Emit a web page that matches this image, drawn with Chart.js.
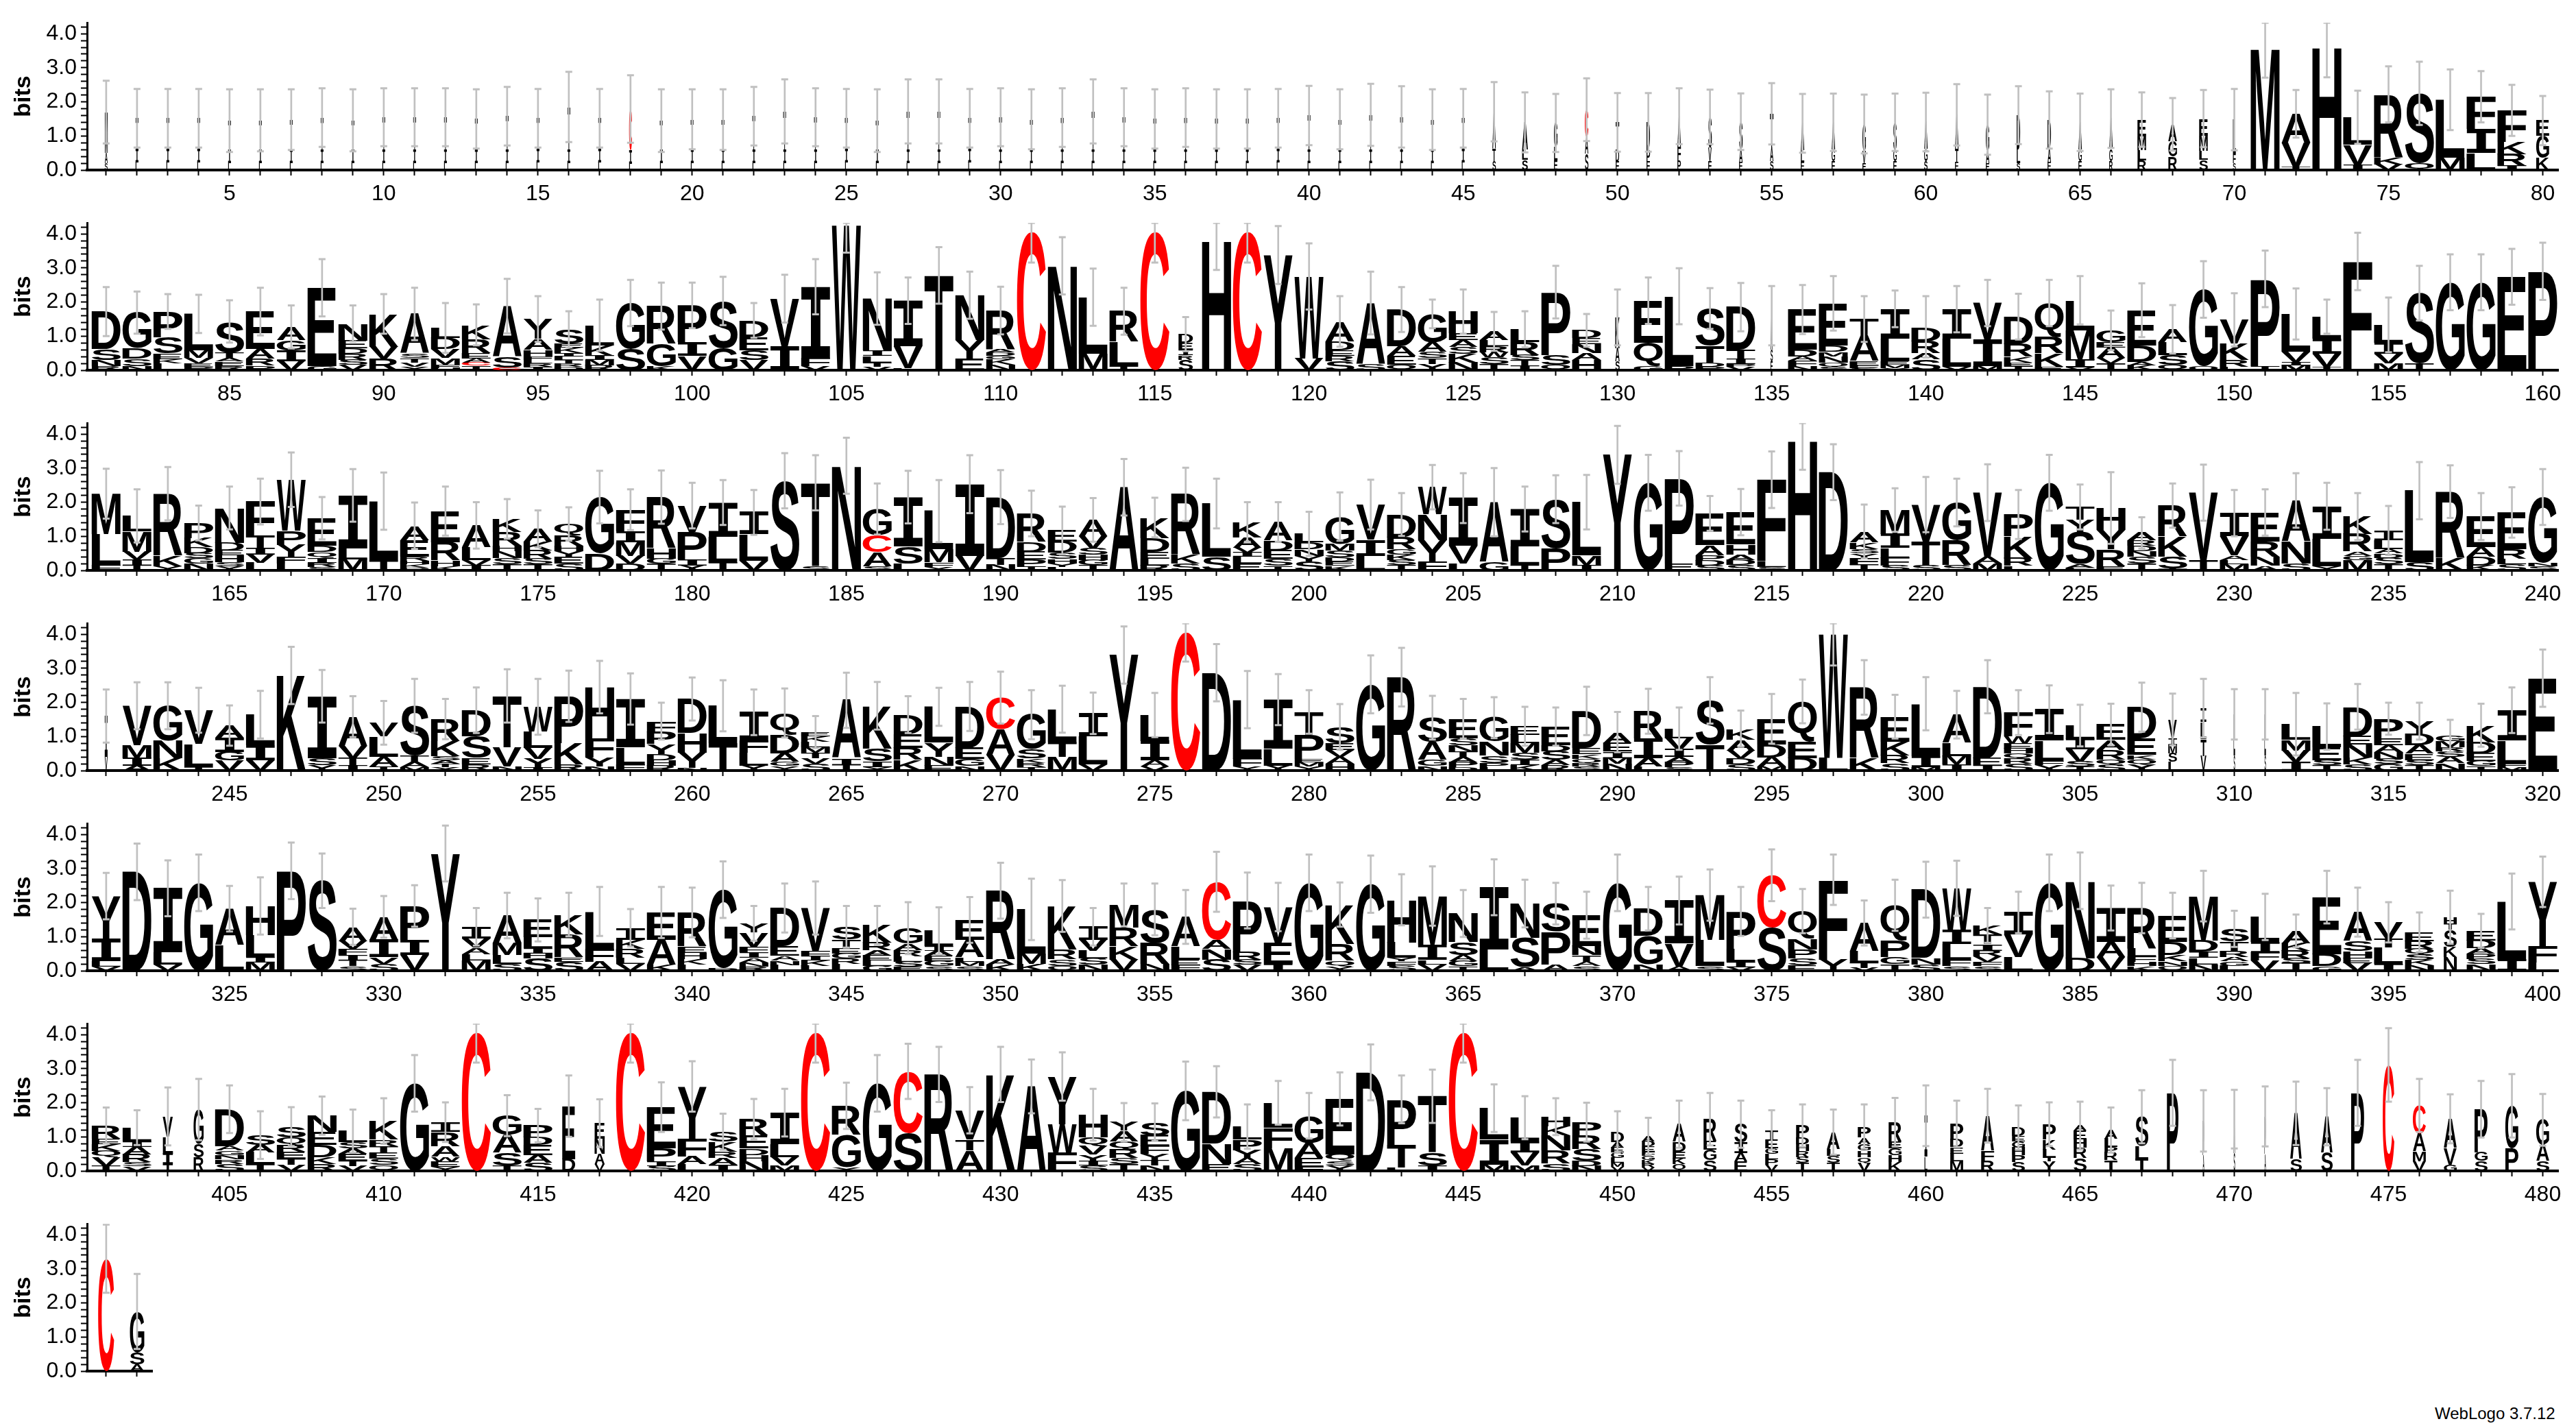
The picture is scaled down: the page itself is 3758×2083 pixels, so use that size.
<!DOCTYPE html>
<html lang="en">
<head>
<meta charset="utf-8">
<title>Sequence logo</title>
<script src="https://cdn.jsdelivr.net/npm/chart.js@4.4.1/dist/chart.umd.min.js"></script>
<style>
  html, body { margin: 0; padding: 0; background: #fff; }
  body { position: relative; width: 3758px; height: 2083px; overflow: hidden; }
  canvas.logo-row { position: absolute; left: 0; }
  #credit { position: absolute; left: 3552px; top: 2048px; font: 24px "Liberation Sans", Arial, sans-serif; color: #000; }
</style>
</head>
<body>
<canvas class="logo-row" id="row1" width="3758" height="292" style="top:8px"></canvas>
<canvas class="logo-row" id="row2" width="3758" height="292" style="top:300px"></canvas>
<canvas class="logo-row" id="row3" width="3758" height="292" style="top:592px"></canvas>
<canvas class="logo-row" id="row4" width="3758" height="292" style="top:884px"></canvas>
<canvas class="logo-row" id="row5" width="3758" height="292" style="top:1176px"></canvas>
<canvas class="logo-row" id="row6" width="3758" height="292" style="top:1468px"></canvas>
<canvas class="logo-row" id="row7" width="240" height="292" style="top:1760px"></canvas>
<div id="credit">WebLogo 3.7.12</div>

<script>
// ---- data: each stack is "letter+bits" from top to bottom ----
const YMAX = 4.32;
const yTickValues = [0, 0.2, 0.4, 0.6, 0.8, 1, 1.2, 1.4, 1.6, 1.8, 2, 2.2, 2.4, 2.6, 2.8, 3, 3.2, 3.4, 3.6, 3.8, 4, 4.2];

const row1Stacks = [
  "M1.2 A.3 S.2", "T.9 I.4 L.22", "T.9 I.4 L.22", "T.9 I.4 L.22", "T.85 I.4 L.2", "T.86 I.4 L.2", "T.88 I.4 L.2", "T.94 I.4 L.2", "T.86 I.4 L.2", "T.95 I.4 L.2",
  "T.95 I.4 L.2", "T.95 I.4 L.2", "T.9 I.4 L.2", "T.98 I.4 L.2", "T.9 I.4 L.22", "T1.25 I.4 L.2", "T.9 I.4 L.22", "C1.2 I.4 L.19", "T.85 I.4 L.2", "T.89 I.4 L.2",
  "T.88 I.4 L.2", "T.98 I.4 L.2", "T1.12 I.4 L.2", "T.95 I.4 L.2", "T.9 I.4 L.22", "T.85 I.4 L.2", "T1.12 I.4 L.2", "T1.12 I.4 L.2", "T.9 I.4 L.22", "T.95 I.4 L.2",
  "T.89 I.4 L.2", "T.94 I.4 L.2", "T1.12 I.4 L.2", "T.95 I.4 L.2", "T.9 I.4 L.2", "T.94 I.4 L.2", "T.9 I.4 L.2", "T.9 I.4 L.2", "T.9 I.4 L.22", "T1.0 I.4 L.2",
  "T.89 I.4 L.2", "T1.02 I.4 L.2", "T.96 I.4 L.2", "T.88 I.4 L.2", "T.9 I.4 L.22", "A1.1 T.35 S.26", "A.8 L.3 S.3", "G.7 L.4 E.28", "C.8 A.5 S.47", "T.8 D.35 E.25",
  "D.8 P.35 E.25", "A.9 F.4 P.28", "S.9 V.4 E.26", "S.8 A.4 E.22", "T1.0 A.4 S.25", "A.8 L.35 E.22", "A.8 G.35 E.25", "G.8 V.35 E.2", "S.8 G.35 E.25", "A.8 G.36 S.25",
  "A1.0 T.4 E.22", "G.75 A.38 E.2", "D1.0 L.4 S.21", "D.85 A.4 E.22", "A.8 G.35 E.25", "A.9 G.35 R.26", "E.5 M.4 L.3 R.28", "A.5 G.45 R.39", "E.5 M.45 L.26 S.3", "L1.0 F.28 S.2",
  "M3.56", "A.85 V.7 T.1", "H3.6", "L.8 V.6 I.15", "R1.85 K.2 V.17", "S2.05 Q.2", "L1.7 M.36", "F.95 I.7 L.5", "F.93 K.35 R.35 I.12", "E.45 G.65 K.35"
];
const row1Err = [
  .92, .86, .86, .86, .92, .91, .89, .86, .91, .85,
  .85, .85, .87, .86, .86, 1.03, .86, .99, .92, .88,
  .89, .86, .94, .85, .86, .92, .94, .94, .86, .85,
  .88, .86, .94, .85, .87, .86, .87, .87, .86, .87,
  .88, .91, .9, .89, .86, .87, .88, .85, .92, .86,
  .86, .82, .8, .83, .9, .86, .84, .86, .84, .86,
  .9, .88, .85, .84, .84, .86, .8, .77, .84, .9,
  .85, .7, .88, .78, .82, .93, .89, .75, .75, .72
];

const row2Stacks = [
  "D1.1 S.32 N.17 R.13", "G1.05 D.3 S.22 N.12", "P.75 S.48 E.16 K.13 L.2", "L1.07 M.22 V.16 E.1 P.1", "S.91 T.16 A.1 E.13 R.13", "E1.1 A.29 R.2 P.13", "A.39 G.3 I.31 V.27", "E2.29 G.13", "N.5 E.22 D.16 R.19 S.15 V.15", "K.96 V.35 R.34",
  "A1.16 S.13 T.13 V.13 Y.1", "L.3 D.32 V.26 M.19 F.1 H.07", "K.42 R.42 E.14 A.12 C.1 T.13", "A1.48 S.32 C.08", "Y.58 A.32 H.19 F.1 L.1 R.11 I.1", "S.42 E.12 K.16 I.1 L.1 T.1 R.1 D.1", "L.6 K.3 I.12 M.15 R.15", "G1.34 S.63", "R1.11 G.65 K.12", "P1.08 I.4 V.42",
  "S1.38 G.65", "D.49 E.38 S.29 V.3", "V1.4 I.7", "I2.1 F.22 V.13", "W4.25", "N1.52 I.16 L.19 T.13 V.1", "I1.34 V.64 L.06", "T2.78", "N1.31 Y.55 E.34", "R1.13 A.1 D.1 G.1 K.16 N.16",
  "C4.06", "N3.06", "L1.66 M.48", "R.9 L.7 T.13", "C4.06", "D.25 E.2 I.16 R.14 S.31", "H3.8", "C4.06", "Y3.38", "W2.4 V.35",
  "A.58 D.26 E.16 R.16 S.27", "A1.8 S.17", "D1.07 A.29 E.26 Q.16", "G.83 A.28 S.19 T.16 Y.19", "H.64 E.2 A.2 S.2 K.25 N.23", "A.25 L.18 R.18 W.15 S.2 T.18", "L.38 R.38 S.15 T.15 I.14", "P1.85 S.28 Q.16", "D.22 E.19 N.26 A.2 H.3", "K.9 A.4 S.25",
  "E1.24 Q.67 G.13", "L2.04 P.13", "S1.09 T.5 D.12 P.1", "D1.25 T.26 I.16 P.08 V.1", "A1.0 S.35 E.25", "E1.17 D.2 A.13 F.15 N.13", "E1.23 D.19 M.13 N.19 Q.12 S.1", "T.48 A.74 E.13 F.08 S.07", "I.87 L.67 E.1 M.1 Y.06", "D.42 R.35 A.18 S.32",
  "I.87 L.82 V.1", "V1.07 I.77 M.13", "D.8 R.38 K.16 E.1 T.13", "Q1.0 R.48 K.38 E.11", "L.88 M.87 I.22 V.08", "G.35 E.15 A.32 V.15 T.2", "E1.03 D.48 A.1 K.15", "A.38 L.38 S.29 Q.15", "G2.25 Q.12", "V.7 K.48 R.2 L.1",
  "P2.55 T.13", "L1.1 V.3 I.1 M.15", "L.64 I.45 V.38 T.1", "F3.19", "L.52 I.32 V.29 M.2", "S2.06 T.2", "G2.58", "G2.58", "E2.74", "P2.9"
];
const row2Err = [
  .72, .62, .51, .56, .62, .7, .63, .84, .53, .58,
  .77, .73, .6, .8, .67, .53, .75, .68, .69, .67,
  .71, .51, .7, .81, .8, .77, .68, .83, .69, .7,
  .9, .84, .84, .69, .9, .5, .86, .9, .85, .97,
  .74, .92, .66, .42, .65, .57, .53, .77, .48, .82,
  .68, .82, .6, .71, .87, .72, .8, .67, .54, .9,
  .68, .68, .67, .68, .71, .58, .79, .71, .83, .78,
  .83, .75, .5, .84, .8, .8, .82, .82, .82, .84
];

const row3Stacks = [
  "M1.18 L.92 F.15", "L.45 M.6 V.22 I.18 T.15", "R1.82 K.3 Y.13", "P.44 K.27 D.17 S.16 G.15 N.2", "N1.02 D.22 E.15 H.2 S.12 Y.12", "F1.0 T.35 I.2 V.25 L.22", "W1.5 P.41 Y.35 F.2 L.2", "E.8 D.19 Q.18 I.13 R.13 S.1", "I1.55 L.32 M.33", "L1.73 T.3",
  "A.42 E.48 R.13 H.1 K.1 D.08", "E.91 R.54 H.16 K.13", "A.64 L.38 V.15 I.15", "K.38 R.41 H.16 N.2 S.18 T.18", "A.38 K.25 R.25 S.17 T.17", "Q.32 R.32 H.16 Y.16 E.2 S.2", "G1.65 D.5", "F.63 I.32 M.41 V.22 D.2", "R1.5 H.3 G.15 T.2", "V.77 P.8 I.18 Y.15",
  "I1.0 L.76 T.23", "I.64 L.78 V.28", "S2.63", "T2.45 S.12", "N3.07", "G.76 C.5 A.42 S.12", "I1.45 S.5 L.2", "L1.12 M.38 F.14 Y.1", "I2.1 V.43", "D1.78 T.2 N.17",
  "R.83 D.29 E.22 P.2 T.13", "E.32 D.32 S.19 H.13 Y.1 L.11", "A.48 V.35 S.2 H.15 G.15 T.15", "A2.44", "K.6 D.4 E.2 L.2 R.15", "R1.78 K.25 S.2", "L1.56 S.4", "K.45 A.3 V.15 I.12 L.2 E.2", "A.54 D.29 E.25 S.2 T.14", "L.25 D.2 N.19 Y.16 S.27",
  "G.8 M.2 S.2 D.12 E.12 K.14", "V1.02 I.48 L.43", "D.67 R.35 G.16 K.16 S.15 T.15", "W.79 N.76 Y.64 F.25", "I1.4 V.52 L.2", "A1.76 G.24", "I1.1 L.54 T.16", "S1.44 P.65", "L1.56 M.29 I.15", "Y3.39",
  "G2.57", "P2.5 E.2", "E.93 A.29 P.16 D.14 S.15", "E.95 H.29 A.16 D.15 S.16", "F2.4 L.16 S.1", "H3.81", "D2.88", "A.32 K.19 S.13 Y.13 F.2 T.17", "M.7 I.41 L.29 F.22 S.15", "V1.08 T.7 S.15",
  "G1.11 R.73 S.15", "V1.88 A.2 M.2", "P.64 K.65 R.22 L.13", "G2.57", "T.38 Y.35 S.95 A.1 F.08", "H.64 Y.57 R.5 E.12", "A.22 R.16 D.16 N.16 S.2 T.2", "R.9 K.6 S.35 T.05", "V1.98 T.3", "I.67 V.57 A.13 L.13 M.18",
  "E.86 R.45 N.25 A.14", "A1.2 N.65 S.2", "I.95 L.8 Y.13", "K.51 R.51 A.13 G.13 M.3", "I.29 L.25 A.13 D.13 S.2 T.17", "L2.1 S.24", "R1.94 K.37", "E.89 A.29 D.25 K.15", "E1.07 R.29 L.16 S.18", "G1.93 N.1 S.12"
];
const row3Err = [
  .73, .78, .78, .51, .63, .67, .8, .62, .77, .84,
  .68, .72, .68, .58, .54, .49, .77, .6, .78, .67,
  .66, .66, .81, .81, .82, .75, .77, .91, .85, .79,
  .67, .7, .64, .83, .58, .78, .73, .58, .58, .65,
  .71, .73, .63, .65, .73, 1.0, .66, .7, .8, .85,
  .82, .8, .51, .68, .83, .86, .82, .79, .64, .81,
  .7, .83, .72, .82, .66, 1.05, .46, .65, .82, .68,
  .68, .8, .69, .69, .72, .84, .77, .69, .74, .82
];

const row4Stacks = [
  "I1.2 V.4", "V1.15 M.38 I.22 A.15", "G1.02 N.51 K.37", "V.99 L.67 T.11", "A.36 I.41 G.25 V.3", "L.89 I.45 V.3", "K2.79", "I1.81 S.22 Y.15", "A.86 V.35 T.22 I.15", "V.4 L.6 A.28 T.12",
  "S1.45 T.19 A.16 M.1", "R.64 K.45 S.12 A.1 T.1 Y.1", "D.76 S.64 E.19 R.18", "T1.5 V.57 N.12", "W.72 L.48 V.32 Y.25 I.1", "P1.38 K.62 R.18", "H1.5 F.57 Y.25 N.13", "I1.42 L.5 F.18", "F.32 P.35 Y.29 D.19 H.15 R.15", "D1.0 H.57 Y.45 N.08",
  "L1.1 T.8", "I.83 F.35 L.38 Y.15", "Q.64 D.54 A.25 G.13 Y.13", "E.13 K.16 L.16 M.16 T.16 V.16 S.2", "A1.7 I.19 T.17", "K1.25 S.38 I.16 Y.11", "D.57 E.41 R.35 K.31", "L1.05 Y.42 N.25 E.15", "D1.21 E.32 G.22 N.13", "C.92 A.76 V.46",
  "G1.02 S.26 K.13 R.13 T.1", "L.95 T.45 M.4", "I.67 L.83 V.18", "Y3.39", "L.76 I.57 A.18 V.12", "C4.06", "D2.87", "L1.73 F.22 Y.13", "I1.43 L.5 Y.15", "T.67 P.7 E.1 M.12 Y.13",
  "S.48 E.2 V.2 A.2 H.2", "G2.53", "R2.74", "S.72 A.51 G.19 N.13", "E.57 S.2 N.2 T.15 A.15 P.15 D.1", "G.7 N.41 S.22 P.12 L.1", "E.25 L.25 M.27 S.22 I.15 K.16", "E.54 D.19 S.25 A.15 R.16", "D1.08 E.19 K.13 Q.13 R.1 S.12", "A.32 E.25 I.19 M.17 N.2",
  "R.8 I.57 A.25 L.12", "L.29 V.32 I.22 A.15 P.15 S.1", "S1.3 T.76", "K.32 A.32 V.22 D.18 S.19", "E.75 D.38 A.27 M.12", "Q1.18 E.48 D.37", "W3.63 L.37", "R2.07 K.37", "E.73 K.41 R.22 S.22", "L1.53 I.32 M.11",
  "A.83 L.38 M.25 I.18", "D2.09 E.22 I.15", "F.7 W.2 E.15 H.15 Q.15 R.15 S.2", "I.92 L.6 F.12 Y.16", "L.4 I.3 V.35 S.15 T.12", "E.45 A.29 R.29 Q.15 S.17", "D.92 E.48 K.14 Q.15 Y.17", "V.55 I.2 M.25 S.25 L.25", "I.4 L.5 T.5 V.43", "L1.2 S.45",
  "L1.2 S.45", "L.45 M.32 V.32 I.27", "L.61 E.38 S.15 T.15", "D.86 E.25 N.38 K.2 S.18", "P.57 E.2 A.2 N.2 S.15 G.2", "Y.38 D.32 A.25 E.19 S.15 T.16", "G.15 M.18 R.12 S.15 A.2 N.21", "K.5 D.32 E.22 G.16 T.13", "I.89 L.67 F.1 M.11", "E2.71"
];
const row4Err = [
  .78, .69, .69, .66, .59, .7, .84, .77, .6, .64,
  .79, .59, .67, .78, .82, .75, .77, .75, .54, .63,
  .75, .67, .72, .47, .81, .7, .54, .56, .72, .76,
  .72, .69, .61, .84, .65, .86, .84, .84, .75, .64,
  .67, .85, .86, .64, .58, .6, .57, .56, .71, .59,
  .66, .62, .68, .53, .73, .64, .92, .8, .64, .78,
  .7, .78, .66, .7, .61, .61, .72, .76, .86, .74,
  .74, .92, .68, .67, .47, .54, .48, .63, .67, .84
];

const row5Stacks = [
  "Y1.26 I.64 L.16 V.13", "D2.9", "I1.88 L.35 V.19", "G2.58", "A1.07 L.75", "H.86 L.64 I.16 M.24", "P2.93", "S2.64", "A.42 V.22 F.18 I.16 T.17 S.14", "A.67 I.51 V.19 S.21",
  "P.99 I.45 V.46", "Y3.44", "I.35 V.26 A.19 L.19 M.3", "A.81 M.35 L.26 S.2", "E.51 L.32 I.15 H.15 S.36", "K.58 R.67 E.13 S.27", "L1.09 F.38 A.27", "I.35 K.26 R.26 L.19 V.2", "E.8 A.74 K.17", "R.99 E.19 H.19 K.16 L.18",
  "G2.3 D.08", "Y.26 V.42 F.16 I.16 A.14 N.12 R.13", "D1.12 E.28 A.14 N.13 L.17", "V1.25 F.16 I.13 K.16 L.14", "S.38 T.26 E.15 G.15 R.15 L.2", "K.51 R.22 A.15 E.15 L.15 G.15", "G.45 A.19 R.19 L.15 S.15 E.12", "L.45 I.13 A.15 E.15 G.15 S.14", "E.58 A.51 L.13 M.13 S.14", "R2.02 A.16 K.17",
  "L1.3 M.3 K.2", "K1.28 R.29 S.19 Q.14", "I.38 V.32 L.22 S.2 N.17", "M.67 R.54 K.39 V.33", "S.99 R.61 N.2", "A.87 L.38 E.16 F.17", "C1.7 A.26 N.32 S.33", "P1.51 R.22 S.16 V.17", "V1.06 E.61 I.2", "G2.58",
  "K1.15 R.5 Q.16 Y.13", "G2.54", "H1.25 L.45 Y.1 F.13 S.15", "M1.42 I.45 L.13 V.19", "N.84 S.38 A.17 G.15 T.14", "I1.83 L.62", "N1.0 S.87 A.1", "S.82 P.96 A.19", "E.9 N.27 T.19 A.13 S.14", "G2.58",
  "D.8 G.83 N.19", "I1.26 V.67 A.13", "M1.31 L.77 S.14", "P1.09 L.38 I.16 V.11", "C1.54 S1.26", "Q.8 N.32 P.26 S.22 E.15", "F2.34 Y.33", "A.83 L.32 T.16 V.09", "Q1.03 P.48 G.22 T.19", "D2.0 N.19 S.19",
  "W1.22 I.42 L.45 F.19 S.14", "K.26 T.29 I.19 R.17 V.16 F.12 S.14", "I.64 V.67 L.4", "G2.58", "N2.27 D.37", "I.99 A.45 V.4", "R1.19 L.22 F.16 H.13 K.14", "E.77 D.38 K.19 N.14 Q.14", "M1.3 D.32 I.19 L.19 N.19", "S.38 T.26 R.19 A.12 G.14 L.14",
  "L.74 I.32 F.22 V.3", "A.36 K.22 R.22 S.15 T.22", "E1.67 D.35 G.14", "A.85 S.3 H.2 E.15 V.22", "V.48 T.26 L.48 I.2", "E.26 R.22 Q.19 S.15 K.15 N.16", "H.2 T.17 S.5 K.3 N.4", "E.29 D.22 A.16 P.16 S.15 N.19", "L1.7 I.33", "Y1.89 F.48 L.24"
];
const row5Err = [
  .68, .83, .82, .83, .67, .84, .83, .8, .53, .61,
  .61, .82, .55, .67, .63, .64, .72, .55, .75, .73,
  .83, .51, .72, .78, .61, .57, .76, .69, .67, .82,
  .9, .76, .55, .63, .76, .79, .88, .82, .71, .83,
  .65, .84, .75, .87, .69, .82, .7, .61, .69, .83,
  .64, .7, .75, .72, .76, .65, .74, .66, .75, .82,
  .81, .51, .61, .83, .83, .66, .74, .67, .74, .53,
  .68, .48, .77, .72, .59, .58, .78, .5, .82, .74
];

const row6Stacks = [
  "R.38 E.16 K.2 Q.19 V.25 T.15", "L.41 I.16 A.22 R.22 S.13 V.13", "V.6 L.5 I.3 T.2", "G1.0 S.4 R.4", "D1.08 A.13 G.13 N.13 R.13 S.21", "S.28 A.22 L.35 T.2", "S.32 Q.22 R.2 E.2 T.18 V.18", "N.48 E.38 D.35 K.2 R.21", "L.32 S.19 A.16 E.2 T.15 V.15", "K.54 R.19 T.19 E.18 S.18 Q.18",
  "G2.57", "I.29 R.41 A.32 W.13 E.15 Y.13", "C4.06", "G.57 A.51 S.38 T.16", "P.35 D.22 E.3 A.23 S.23", "E1.55 D.35", "E.45 N.45 A.3 V.2", "C4.06", "E1.21 P.38 I.13 S.15", "Y1.55 F.51 A.22 L.2",
  "S.29 K.29 R.19 A.2 I.18", "R.48 E.38 D.19 H.19 N.28", "I.92 L.38 V.25 M.16", "C4.06", "R.86 G.95 Y.1", "G2.57", "C1.81 S1.11", "R2.83", "V.86 T.32 A.6", "K2.83",
  "A2.48", "Y1.4 W.83 F.54", "H.67 Q.25 V.25 Y.19 I.13 S.16", "Y.25 A.32 Q.22 R.25 S.19 T.2", "S.38 E.32 F.22 Y.19 T.16 N.16", "G2.35", "D1.52 N.6 E.2", "L.38 P.32 Y.22 A.18 S.2", "L.73 F.6 M.67", "G.8 A.45 E.25 F.12",
  "E1.62 Q.2 S.13 Y.16", "D2.89", "P1.33 T.67 L.1", "T1.65 S.38 I.16", "C4.06", "L.92 I.73 M.19", "L.7 I.32 V.38 M.16", "H.29 K.25 N.45 R.38 S.22", "P.38 R.41 S.35 D.14 N.15", "D.3 A.15 E.15 G.15 L.15 M.12 V.12",
  "A.15 D.15 E.15 F.12 G.12 K.12 R.12 V.09", "A.51 D.29 E.2 K.17 Q.2", "R.64 E.25 G.32 S.31", "S.54 I.3 A.25 E.28", "T.29 E.25 G.16 L.16 P.16 V.18", "P.35 D.2 H.2 R.17 S.17 T.24", "A.5 L.2 S.2 T.24", "P.32 A.19 G.19 H.19 Q.18 V.23", "R.57 E.2 G.2 H.2 K.26", "I1.2 L.42",
  "P.46 D.22 E.19 L.22 M.29", "A1.02 F.29 R.31", "D.25 E.15 G.18 H.22 P.2 S.27", "P.45 K.29 L.22 T.13 Y.28", "A.15 E.25 H.25 R.3 S.38", "A.25 L.25 P.16 R.22 T.32", "S.86 L.38 T.35", "P2.29", "P1.0 A.47", "A1.0 S.52",
  "P1.1 A.5", "A1.34 S.35", "A1.05 S.54", "P2.29", "C3.11", "C.83 A.51 M.29 V.29", "A.86 V.48 G.19", "P1.27 G.25 S.29", "G1.24 P.67", "G.73 A.48 S.29"
];
const row6Err = [
  .53, .51, .85, .9, .7, .7, .57, .56, .63, .67,
  .83, .58, .88, .6, .49, .9, .7, .88, .73, .74,
  .53, .59, .7, .88, .68, .83, .81, .81, .68, .81,
  .79, .71, .76, .56, .55, .86, .75, .65, .64, .67,
  .78, .82, .7, .78, .88, .7, .63, .54, .57, .61,
  .54, .69, .77, .69, .58, .62, .66, .65, .71, .89,
  .68, .79, .65, .64, .7, .66, .78, .97, .9, .86,
  .88, .93, .84, .97, 1.08, .78, .72, .83, .93, .76
];

const row7Stacks = ["C3.3", "G1.2 S.35 A.2"];
const row7Err = [1.0, 1.1];

// columns drawn narrower than full width (gappy positions): [from, to, width fraction]
const narrowRanges = [
  [1, 45, .1], [46, 46, .12], [47, 47, .2], [48, 66, .12], [67, 69, .3], [70, 70, .1], [80, 80, .45],
  [116, 116, .5], [130, 130, .15], [135, 135, .08],
  [241, 241, .1], [308, 308, .3], [309, 309, .2], [310, 311, .05],
  [397, 397, .45],
  [403, 404, .35], [416, 416, .45], [417, 417, .35], [450, 459, .45], [460, 460, .1], [461, 467, .45],
  [468, 468, .4], [469, 471, .05], [472, 473, .4], [474, 474, .45], [475, 475, .4], [476, 480, .45],
  [481, 481, .55], [482, 482, .5]
];

// ---- drawing ----
const GREY = '#c0c0c0';
const GLYPH_FONT = 'bold 200px "Liberation Sans", Arial, sans-serif';
const SERIF_I_FONT = 'bold 200px "DejaVu Sans Mono", "Liberation Mono", monospace';  // 'I' with bars, as in the logo
Chart.defaults.font.family = '"Liberation Sans", Arial, sans-serif';
Chart.defaults.color = '#000';

function parseStack(str) {
  return str.split(' ').map(t => [t[0], parseFloat(t.slice(1))]);
}

function stackWidth(pos) {
  const r = narrowRanges.find(([a, b]) => pos >= a && pos <= b);
  return r ? r[2] : 1;
}

function fontFor(ch) {
  return ch === 'I' ? SERIF_I_FONT : GLYPH_FONT;
}

const glyphBoxes = {};
function glyphBox(ctx, ch) {
  if (!glyphBoxes[ch]) {
    ctx.font = fontFor(ch);
    const m = ctx.measureText(ch);
    glyphBoxes[ch] = { l: m.actualBoundingBoxLeft, r: m.actualBoundingBoxRight, a: m.actualBoundingBoxAscent, d: m.actualBoundingBoxDescent };
  }
  return glyphBoxes[ch];
}

// stretch one letter so its ink fills the box exactly
function drawGlyph(ctx, ch, x0, x1, yTop, yBot) {
  if (yBot - yTop < 0.3) return;
  const g = glyphBox(ctx, ch);
  ctx.save();
  ctx.translate(x0, yBot);
  ctx.scale((x1 - x0) / (g.l + g.r), (yBot - yTop) / (g.a + g.d));
  ctx.font = fontFor(ch);
  ctx.textBaseline = 'alphabetic';
  ctx.textAlign = 'left';
  ctx.fillStyle = ch === 'C' ? '#ff0000' : '#000';
  ctx.fillText(ch, g.l, -g.d);
  ctx.restore();
}

function logoLayer(positions, parsed) {
  return {
    id: 'logoLayer',
    beforeDatasetsDraw(chart) {
      const { ctx, scales: { x, y } } = chart;
      positions.forEach((pos, i) => {
        const cx = x.getPixelForValue(pos);
        const half = (x.getPixelForValue(pos + 0.5) - cx) * 0.94 * stackWidth(pos);
        let base = 0;
        [...parsed[i]].reverse().forEach(([ch, h]) => {
          drawGlyph(ctx, ch, cx - half, cx + half, y.getPixelForValue(base + h), y.getPixelForValue(base));
          base += h;
        });
      });
    }
  };
}

function buildRow(canvasId, start, stacks, errs, padRight) {
  const positions = stacks.map((_, i) => start + i);
  const parsed = stacks.map(parseStack);
  const totals = parsed.map(st => st.reduce((sum, [, h]) => sum + h, 0));
  const errLines = positions.map((p, i) => ({
    x: p,
    y: [Math.max(0, totals[i] - errs[i]), Math.min(YMAX, totals[i] + errs[i])]
  }));
  const errCaps = errLines.flatMap(d => [{ x: d.x, y: d.y[0] }, { x: d.x, y: d.y[1] }]);
  const lastPos = positions[positions.length - 1];

  new Chart(document.getElementById(canvasId), {
    type: 'bar',
    data: {
      datasets: [
        { type: 'bar', data: errLines, backgroundColor: GREY, borderWidth: 0, barThickness: 2 },
        { type: 'scatter', data: errCaps, pointStyle: 'line', pointRadius: 5, borderColor: GREY, borderWidth: 3 }
      ]
    },
    options: {
      responsive: false,
      animation: false,
      devicePixelRatio: 1,
      events: [],
      layout: { padding: { top: 14, right: padRight, left: 0, bottom: 0 } },
      plugins: { legend: { display: false }, tooltip: { enabled: false } },
      scales: {
        x: {
          type: 'linear',
          min: start - 0.62,
          max: (stacks.length === 80 ? start + 79 : lastPos) + 0.5,
          offset: false,
          afterBuildTicks: ax => { ax.ticks = positions.map(v => ({ value: v })); },
          afterFit: ax => { ax.height = 52; },
          ticks: {
            autoSkip: false, maxRotation: 0, minRotation: 0, padding: 8, color: '#000',
            font: { size: 32 },
            callback: v => (v % 5 === 0 ? String(v) : '')
          },
          grid: { offset: false, drawOnChartArea: false, drawTicks: true, tickLength: 8, tickWidth: 2, tickColor: '#000' },
          border: { display: true, color: '#000', width: 4 }
        },
        y: {
          type: 'linear',
          min: 0,
          max: YMAX,
          afterBuildTicks: ax => { ax.ticks = yTickValues.map(v => ({ value: v })); },
          afterFit: ax => { ax.width = 127; },
          ticks: {
            autoSkip: false, padding: 6, color: '#000',
            font: { size: 32 },
            callback: v => (Math.abs(v - Math.round(v)) < 1e-6 ? v.toFixed(1) : '')
          },
          grid: { drawOnChartArea: false, drawTicks: true, tickLength: 9, tickWidth: 2, tickColor: '#000' },
          border: { display: true, color: '#000', width: 3 },
          title: { display: true, text: 'bits', color: '#000', font: { size: 34, weight: 'bold' }, padding: { top: 14, bottom: 0 } }
        }
      }
    },
    plugins: [logoLayer(positions, parsed)]
  });
}

buildRow('row1', 1, row1Stacks, row1Err, 26);
buildRow('row2', 81, row2Stacks, row2Err, 26);
buildRow('row3', 161, row3Stacks, row3Err, 26);
buildRow('row4', 241, row4Stacks, row4Err, 26);
buildRow('row5', 321, row5Stacks, row5Err, 26);
buildRow('row6', 401, row6Stacks, row6Err, 26);
buildRow('row7', 481, row7Stacks, row7Err, 17.5);
</script>
</body>
</html>
